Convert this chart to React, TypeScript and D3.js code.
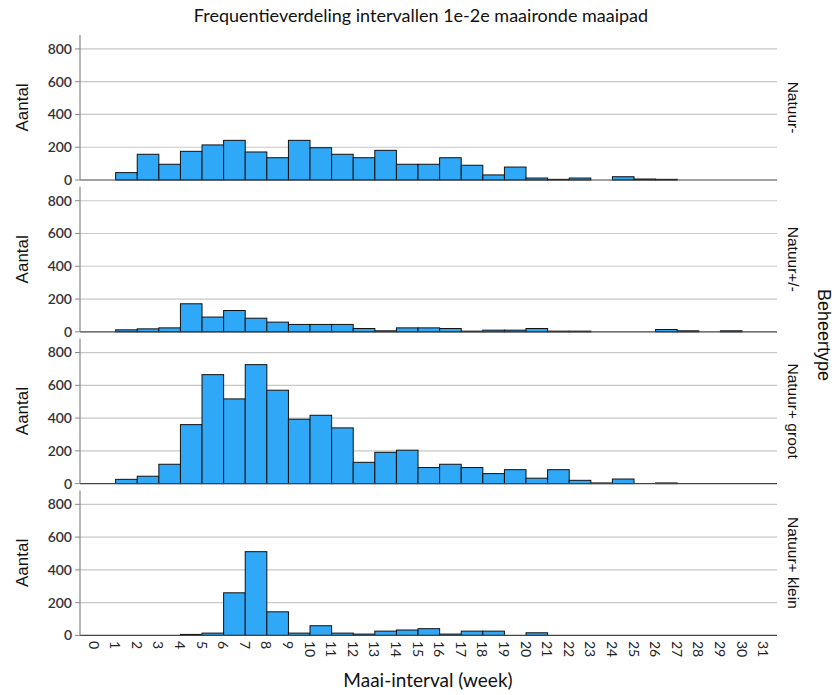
import React from "react";
import * as d3 from "d3";

const bins = [0,1,2,3,4,5,6,7,8,9,10,11,12,13,14,15,16,17,18,19,20,21,22,23,24,25,26,27,28,29,30];
const xTickLabels = [0,1,2,3,4,5,6,7,8,9,10,11,12,13,14,15,16,17,18,19,20,21,22,23,24,25,26,27,28,29,30,31];
const yTicks = [0,200,400,600,800];
const panelNames = ["Natuur-", "Natuur+/-", "Natuur+ groot", "Natuur+ klein"];

const natuurMin = [0,45,157,96,175,214,242,171,136,242,197,157,136,181,96,96,136,90,31,79,12,4,12,0,20,6,4,0,0,0,0];
const natuurPM = [0,12,18,24,171,90,130,83,59,45,45,45,20,6,24,24,20,4,10,10,20,4,4,0,0,0,14,6,0,6,0];
const natuurGroot = [0,26,45,118,360,665,517,726,570,393,417,340,130,191,204,98,118,98,61,85,33,85,20,4,28,0,4,0,0,0,0];
const natuurKlein = [0,0,0,0,6,14,260,511,144,14,59,14,8,26,33,41,8,26,26,0,16,0,0,0,0,0,0,0,0,0,0];
const series = [natuurMin, natuurPM, natuurGroot, natuurKlein];

const W = 834, H = 695;
const left = 80, right = 777;
const panelTop0 = 35, panelStep = 151.8, panelH = 145;
const BAR = "#30a8f8";
const CAL = "Lato, 'Open Sans', sans-serif";
const ARI = "'Liberation Sans', Arial, sans-serif";

export default function App() {
  const x = d3.scaleLinear().domain([-0.65, 31.62]).range([left, right]);
  return (
    <svg width={W} height={H} style={{ position: "absolute", left: 0, top: 0, background: "#fff" }}>
      <text x={421} y={22} textAnchor="middle" fontFamily={CAL} fontSize={18} fill="#111">
        Frequentieverdeling intervallen 1e-2e maaironde maaipad
      </text>
      {series.map((vals, pi) => {
        const top = panelTop0 + pi * panelStep;
        const y = d3.scaleLinear().domain([0, 885]).range([top + panelH, top]);
        const base = y(0);
        return (
          <g key={pi}>
            {yTicks.filter(t => t > 0).map(t => (
              <line key={t} x1={left} x2={right} y1={y(t)} y2={y(t)} stroke="#c8c8c8" strokeWidth={1.2} />
            ))}
            {vals.map((v, i) => v > 0 ? (
              <rect key={i} x={x(bins[i])} y={y(v)} width={x(bins[i] + 1) - x(bins[i])} height={base - y(v)}
                fill={BAR} stroke="#111" strokeWidth={1} />
            ) : null)}
            <line x1={left} x2={right} y1={base} y2={base} stroke="#444" strokeWidth={1.2} />
            <line x1={left} x2={left} y1={top} y2={base} stroke="#888" strokeWidth={1.2} />
            {yTicks.map(t => (
              <g key={t}>
                <line x1={left - 5} x2={left} y1={y(t)} y2={y(t)} stroke="#888" strokeWidth={1} />
                <text x={left - 8} y={y(t)} dy="0.35em" textAnchor="end" fontFamily={CAL} fontSize={14} fontWeight={600} fill="#333">{t}</text>
              </g>
            ))}
            <text transform={`translate(28,${top + panelH / 2}) rotate(-90)`} textAnchor="middle" fontFamily={ARI} fontSize={17} fill="#111">Aantal</text>
            <text transform={`translate(788,${top + panelH / 2}) rotate(90)`} textAnchor="middle" fontFamily={ARI} fontSize={15.5} fill="#111">{panelNames[pi]}</text>
          </g>
        );
      })}
      {xTickLabels.map(t => (
        <text key={t} transform={`translate(${x(t)},641) rotate(90)`} textAnchor="start" dominantBaseline="central" fontFamily={CAL} fontSize={14} fill="#222">{t}</text>
      ))}
      <text x={428} y={687} textAnchor="middle" fontFamily={CAL} fontSize={19} fill="#111">Maai-interval (week)</text>
      <text transform={`translate(818,335) rotate(90)`} textAnchor="middle" fontFamily={ARI} fontSize={18} fill="#111">Beheertype</text>
    </svg>
  );
}
